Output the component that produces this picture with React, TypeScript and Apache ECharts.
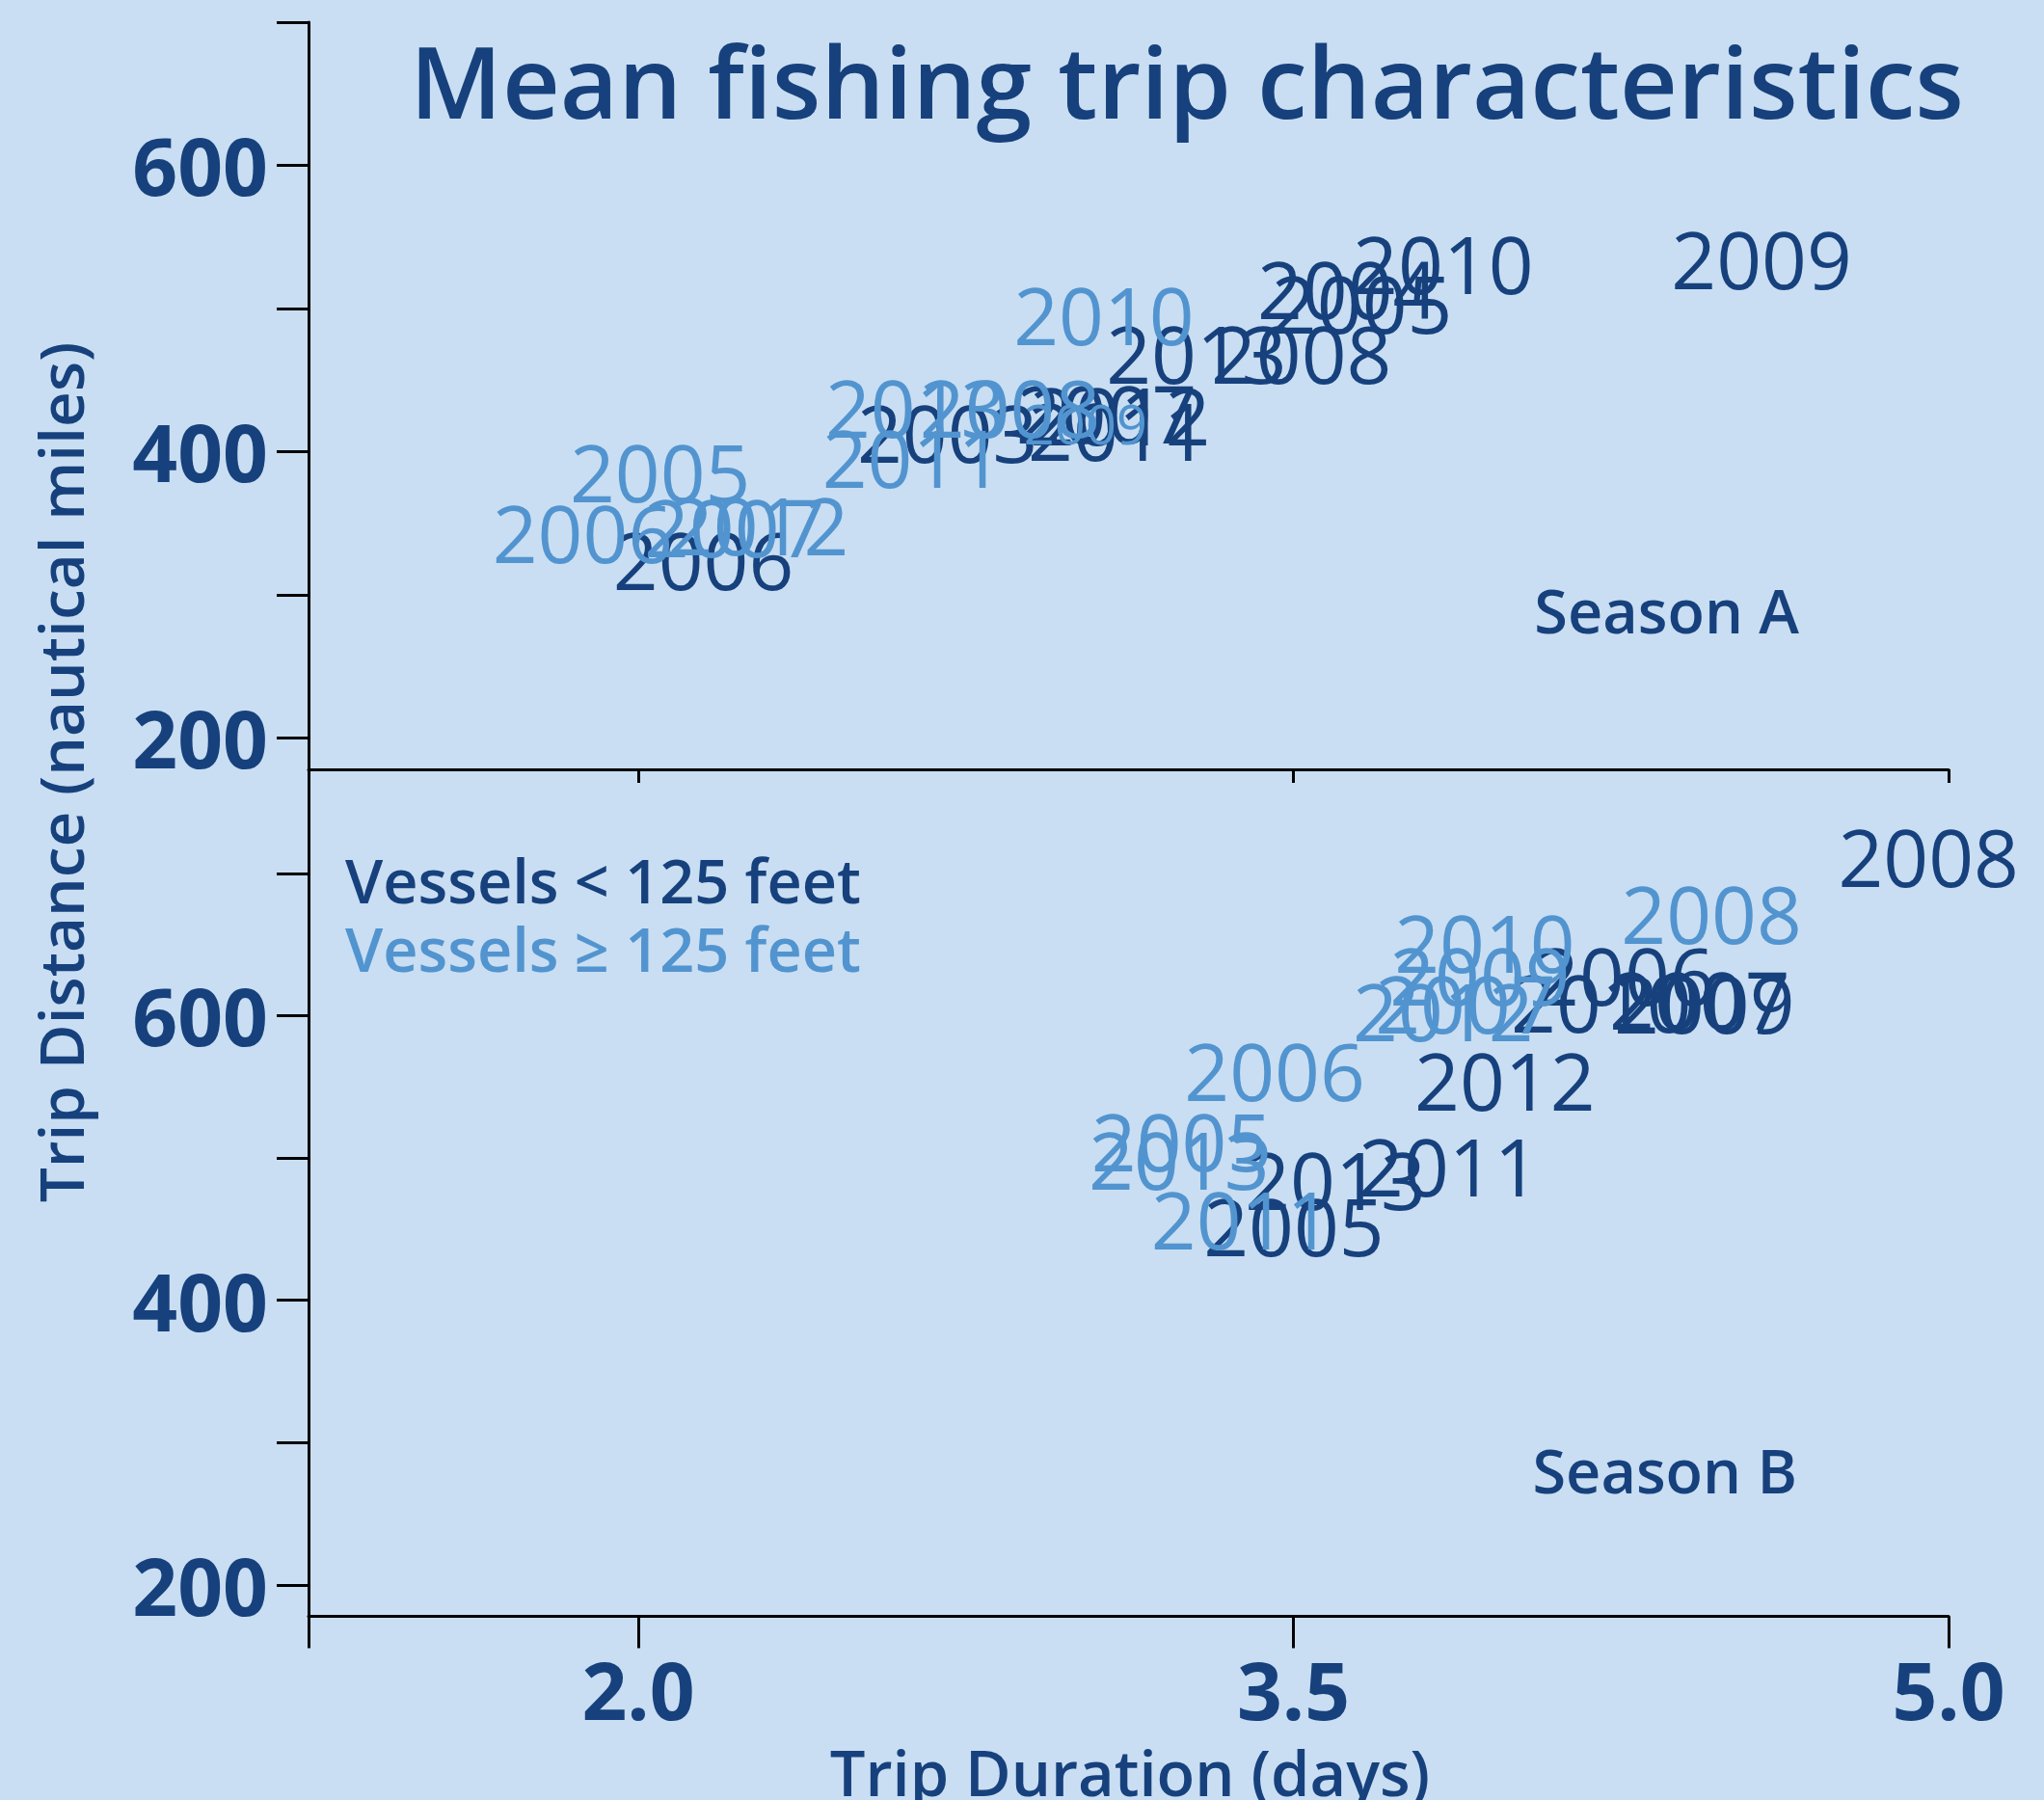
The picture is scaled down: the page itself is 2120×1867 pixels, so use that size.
import React, { useEffect, useRef } from 'react';
import * as echarts from 'echarts';

// ---------- data (trip duration in days, trip distance in nautical miles) ----------
const topDarkYears = ['2003', '2004', '2005', '2006', '2007', '2008', '2009', '2010', '2011', '2012', '2013'];
const topDarkDuration = [2.708, 3.624, 3.657, 2.149, 3.072, 3.518, 4.572, 3.843, 3.099, 3.103, 3.278];
const topDarkDistance = [414.0, 514.4, 504.3, 325.1, 427.5, 469.3, 535.3, 531.3, 415.4, 426.1, 469.3];

const topLightYears = ['2005', '2006', '2007', '2008', '2009', '2010', '2011', '2012', '2013'];
const topLightDuration = [2.05, 1.873, 2.22, 2.851, 3.024, 3.066, 2.628, 2.275, 2.635];
const topLightDistance = [386.4, 343.9, 348.0, 431.5, 420.1, 495.6, 396.5, 349.3, 431.5];

const bottomDarkYears = ['2005', '2006', '2007', '2008', '2009', '2010', '2011', '2012', '2013'];
const bottomDarkDuration = [3.501, 4.258, 4.43, 4.954, 4.441, 4.205, 3.856, 3.984, 3.596];
const bottomDarkDistance = [452.5, 628.6, 611.6, 711.8, 609.0, 609.6, 494.9, 554.8, 485.0];

const bottomLightYears = ['2005', '2006', '2007', '2008', '2009', '2010', '2011', '2012', '2013'];
const bottomLightDuration = [3.244, 3.457, 3.894, 4.457, 3.927, 3.938, 3.381, 3.843, 3.238];
const bottomLightDistance = [512.1, 561.5, 609.0, 671.9, 628.6, 651.6, 457.3, 603.5, 499.3];

const xTickValues = [1.245, 2.0, 3.5, 5.0];
const xLabelValues = [2.0, 3.5, 5.0];
const yTickValues = [200, 300, 400, 500, 600, 700];
const yLabelValues = [200, 400, 600];

// ---------- styles ----------
const BG = '#C9DEF2';
const DARK = '#17417D';
const LIGHT = '#5294CF';
const FONT = "'Open Sans', 'Noto Sans', sans-serif";
const SMALL_TOP_LIGHT = ['2009'];

function points(years: string[], dur: number[], dist: number[], small: string[] = []) {
  return years.map((y, i) => {
    const item: any = { value: [dur[i], dist[i], y] };
    if (small.includes(y)) item.label = { fontSize: 56 };
    return item;
  });
}

function yearSeries(xi: number, yi: number, data: any[], color: string, z: number) {
  return {
    type: 'scatter',
    xAxisIndex: xi,
    yAxisIndex: yi,
    data,
    symbol: 'circle',
    symbolSize: 1,
    itemStyle: { color: 'rgba(0,0,0,0)' },
    clip: false,
    silent: true,
    z,
    label: {
      show: true,
      position: 'inside',
      align: 'center',
      verticalAlign: 'middle',
      formatter: (p: any) => p.value[2],
      color,
      opacity: 1,
      fontFamily: FONT,
      fontSize: 82,
      fontWeight: 400,
    },
  };
}

const axisLineStyle = { color: '#000', width: 3 };

function xAxisDef(gridIndex: number, withLabels: boolean, tickLen: number, ticks: number[]) {
  return {
    type: 'value',
    gridIndex,
    min: 1.245,
    max: 5.0,
    axisLine: { show: true, onZero: false, lineStyle: axisLineStyle },
    axisTick: { show: true, length: tickLen, customValues: ticks, lineStyle: axisLineStyle },
    axisLabel: withLabels
      ? {
          show: true,
          customValues: xLabelValues,
          formatter: (v: number) => v.toFixed(1),
          color: DARK,
          fontFamily: FONT,
          fontSize: 82,
          fontWeight: 700,
          margin: 34,
        }
      : { show: false },
    splitLine: { show: false },
  };
}

function yAxisDef(gridIndex: number, max: number) {
  return {
    type: 'value',
    gridIndex,
    min: 178,
    max,
    axisLine: { show: true, onZero: false, lineStyle: axisLineStyle },
    axisTick: { show: true, length: 33, customValues: yTickValues, lineStyle: axisLineStyle },
    axisLabel: {
      show: true,
      customValues: yLabelValues,
      color: DARK,
      fontFamily: FONT,
      fontSize: 82,
      fontWeight: 700,
      margin: 42,
    },
    splitLine: { show: false },
  };
}

export default function App() {
  const ref = useRef<HTMLDivElement>(null);

  useEffect(() => {
    document.body.style.margin = '0';
    const chart = echarts.init(ref.current!, undefined, { renderer: 'svg' });
    chart.setOption({
      animation: false,
      backgroundColor: BG,
      grid: [
        { left: 320, top: 23, width: 1701, height: 775 },
        { left: 320, top: 798, width: 1701, height: 878.5 },
      ],
      xAxis: [xAxisDef(0, false, 14, [2.0, 3.5, 5.0]), xAxisDef(1, true, 33, xTickValues)],
      yAxis: [yAxisDef(0, 700), yAxisDef(1, 773)],
      series: [
        yearSeries(0, 0, points(topDarkYears, topDarkDuration, topDarkDistance), DARK, 2),
        yearSeries(0, 0, points(topLightYears, topLightDuration, topLightDistance, SMALL_TOP_LIGHT), LIGHT, 3),
        yearSeries(1, 1, points(bottomDarkYears, bottomDarkDuration, bottomDarkDistance), DARK, 2),
        yearSeries(1, 1, points(bottomLightYears, bottomLightDuration, bottomLightDistance), LIGHT, 3),
      ],
      graphic: [
        {
          type: 'text',
          x: 1231,
          y: 82,
          style: {
            text: 'Mean fishing trip characteristics',
            textAlign: 'center',
            textVerticalAlign: 'middle',
            fontFamily: FONT,
            fontSize: 104,
            fontWeight: 600,
            fill: DARK,
          },
        },
        {
          type: 'text',
          x: 62,
          y: 801,
          rotation: Math.PI / 2,
          style: {
            text: 'Trip Distance (nautical miles)',
            textAlign: 'center',
            textVerticalAlign: 'middle',
            fontFamily: FONT,
            fontSize: 64,
            fontWeight: 600,
            fill: DARK,
          },
        },
        {
          type: 'text',
          x: 1172,
          y: 1838,
          style: {
            text: 'Trip Duration (days)',
            textAlign: 'center',
            textVerticalAlign: 'middle',
            fontFamily: FONT,
            fontSize: 65,
            fontWeight: 600,
            fill: DARK,
          },
        },
        {
          type: 'text',
          x: 358,
          y: 912,
          style: {
            text: 'Vessels < 125 feet',
            textAlign: 'left',
            textVerticalAlign: 'middle',
            fontFamily: FONT,
            fontSize: 63,
            fontWeight: 600,
            fill: DARK,
          },
        },
        {
          type: 'text',
          x: 358,
          y: 983,
          style: {
            text: 'Vessels \u2265 125 feet',
            textAlign: 'left',
            textVerticalAlign: 'middle',
            fontFamily: FONT,
            fontSize: 63,
            fontWeight: 600,
            fill: LIGHT,
          },
        },
        {
          type: 'text',
          x: 1866,
          y: 632,
          style: {
            text: 'Season A',
            textAlign: 'right',
            textVerticalAlign: 'middle',
            fontFamily: FONT,
            fontSize: 63,
            fontWeight: 600,
            fill: DARK,
          },
        },
        {
          type: 'text',
          x: 1864,
          y: 1524,
          style: {
            text: 'Season B',
            textAlign: 'right',
            textVerticalAlign: 'middle',
            fontFamily: FONT,
            fontSize: 63,
            fontWeight: 600,
            fill: DARK,
          },
        },
      ],
    });
    return () => chart.dispose();
  }, []);

  return (
    <div
      ref={ref}
      style={{ position: 'fixed', left: 0, top: 0, width: 2120, height: 1867 }}
    />
  );
}
